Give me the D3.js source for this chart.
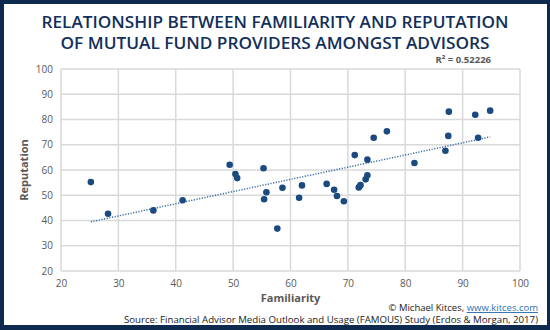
<!DOCTYPE html>
<html>
<head>
<meta charset="utf-8">
<script src="https://cdn.jsdelivr.net/npm/d3@7"></script>
<style>
  html, body { margin: 0; padding: 0; background: #fff; }
  svg { display: block; }
</style>
</head>
<body>
<div id="chart"></div>
<script>
// values
const familiarity = [25.2, 28.2, 36.1, 41.2, 49.4, 50.4, 50.7, 55.3, 55.8, 55.4, 57.7, 58.6,
  62.0, 61.5, 66.3, 67.6, 68.1, 69.3, 71.2, 71.9, 72.2, 73.1, 73.4, 73.4, 74.5, 76.8,
  81.6, 87.0, 87.5, 87.6, 92.2, 92.7, 94.8];
const reputation = [55.2, 42.7, 44.0, 48.0, 62.1, 58.4, 56.8, 60.7, 51.2, 48.4, 36.8, 53.0,
  53.9, 49.0, 54.5, 52.2, 49.7, 47.6, 65.9, 53.1, 54.0, 56.3, 57.9, 64.1, 72.8, 75.3,
  62.8, 67.6, 73.5, 83.1, 81.9, 72.8, 83.5];
const xTicks = [20, 30, 40, 50, 60, 70, 80, 90, 100];
const yTicks = [20, 30, 40, 50, 60, 70, 80, 90, 100];
const titleLines = ["RELATIONSHIP BETWEEN FAMILIARITY AND REPUTATION",
  "OF MUTUAL FUND PROVIDERS AMONGST ADVISORS"];
const r2Label = "R\u00b2 = 0.52226";

const width = 550, height = 330;
const margin = { top: 69, right: 30, bottom: 59, left: 61 };

const svg = d3.select('#chart').append('svg')
    .attr('width', width)
    .attr('height', height);

// dark frame (a bit heavier at the bottom)
svg.append('rect')
    .attr('width', width).attr('height', height)
    .attr('fill', '#0e2b4f');
svg.append('rect')
    .attr('x', 4).attr('y', 4)
    .attr('width', width - 7).attr('height', height - 9)
    .attr('fill', '#fff');

const x = d3.scaleLinear()
    .domain([20, 100])
    .range([margin.left, width - margin.right]);
const y = d3.scaleLinear()
    .domain([20, 100])
    .range([height - margin.bottom, margin.top]);

// title
svg.append('g')
    .selectAll('text')
    .data(titleLines)
    .join('text')
    .attr('x', width / 2)
    .attr('y', (d, i) => 28 + i * 21)
    .attr('text-anchor', 'middle')
    .attr('font-family', 'Open Sans, sans-serif')
    .attr('font-weight', 600)
    .attr('font-size', '17px')
    .attr('fill', '#12305a')
    .attr('textLength', (d, i) => i === 0 ? 467 : 429)
    .attr('lengthAdjust', 'spacingAndGlyphs')
    .text(d => d);

// grid
svg.append('g')
    .selectAll('line')
    .data(xTicks)
    .join('line')
    .attr('x1', d => x(d)).attr('x2', d => x(d))
    .attr('y1', y(20)).attr('y2', y(100))
    .attr('stroke', '#d9d9d9')
    .attr('stroke-width', 1.5);
svg.append('g')
    .selectAll('line')
    .data(yTicks)
    .join('line')
    .attr('x1', x(20)).attr('x2', x(100))
    .attr('y1', d => y(d)).attr('y2', d => y(d))
    .attr('stroke', '#d9d9d9')
    .attr('stroke-width', 1.5);

function xAxis(g) {
    g.attr('transform', `translate(0, ${y(20)})`)
        .call(d3.axisBottom(x).tickValues(xTicks).tickSize(0).tickPadding(9))
        .call(g => g.select('.domain').remove())
        .attr('font-family', 'Open Sans, sans-serif')
        .attr('font-size', '10px')
        .selectAll('text').attr('fill', '#595959');
}
function yAxis(g) {
    g.attr('transform', `translate(${x(20)},0)`)
        .call(d3.axisLeft(y).tickValues(yTicks).tickSize(0).tickPadding(8))
        .call(g => g.select('.domain').remove())
        .attr('font-family', 'Open Sans, sans-serif')
        .attr('font-size', '10px')
        .selectAll('text').attr('fill', '#595959');
}
svg.append('g').call(xAxis);
svg.append('g').call(yAxis);

svg.append('text')
    .attr('x', (x(20) + x(100)) / 2)
    .attr('y', 302)
    .attr('text-anchor', 'middle')
    .attr('font-family', 'Open Sans, sans-serif')
    .attr('font-weight', 700)
    .attr('font-size', '11px')
    .attr('fill', '#595959')
    .text('Familiarity');

svg.append('text')
    .attr('transform', `translate(28, ${(y(20) + y(100)) / 2}) rotate(-90)`)
    .attr('text-anchor', 'middle')
    .attr('font-family', 'Open Sans, sans-serif')
    .attr('font-weight', 700)
    .attr('font-size', '11px')
    .attr('fill', '#595959')
    .text('Reputation');

// linear trendline (least squares)
const n = familiarity.length;
const mx = d3.mean(familiarity), my = d3.mean(reputation);
let sxy = 0, sxx = 0;
for (let i = 0; i < n; i++) {
    sxy += (familiarity[i] - mx) * (reputation[i] - my);
    sxx += (familiarity[i] - mx) ** 2;
}
const slope = sxy / sxx, intercept = my - slope * mx;
const xExt = d3.extent(familiarity);

svg.append('line')
    .attr('x1', x(xExt[0])).attr('y1', y(intercept + slope * xExt[0]))
    .attr('x2', x(xExt[1])).attr('y2', y(intercept + slope * xExt[1]))
    .attr('stroke', '#3a6ea5')
    .attr('stroke-width', 1.5)
    .attr('stroke-dasharray', '1.2,1.5');

svg.append('g')
    .attr('fill', '#1a4a80')
    .selectAll('circle')
    .data(familiarity)
    .join('circle')
    .attr('cx', d => x(d))
    .attr('cy', (d, i) => y(reputation[i]))
    .attr('r', 3.3);

svg.append('text')
    .attr('x', 491)
    .attr('y', 63)
    .attr('text-anchor', 'end')
    .attr('font-family', 'Open Sans, sans-serif')
    .attr('font-weight', 700)
    .attr('font-size', '9.5px')
    .attr('fill', '#595959')
    .text(r2Label);

// credits
const credit = svg.append('text')
    .attr('x', 538)
    .attr('y', 311)
    .attr('text-anchor', 'end')
    .attr('font-family', 'Open Sans, sans-serif')
    .attr('font-size', '9.5px')
    .attr('fill', '#1a1a1a');
credit.append('tspan').text('\u00a9 Michael Kitces, ');
credit.append('tspan')
    .attr('fill', '#2f6fb5')
    .attr('text-decoration', 'underline')
    .text('www.kitces.com');

svg.append('text')
    .attr('x', 538)
    .attr('y', 323)
    .attr('text-anchor', 'end')
    .attr('font-family', 'Open Sans, sans-serif')
    .attr('font-size', '9.5px')
    .attr('fill', '#1a1a1a')
    .attr('textLength', 414)
    .attr('lengthAdjust', 'spacingAndGlyphs')
    .text('Source: Financial Advisor Media Outlook and Usage (FAMOUS) Study (Erdos & Morgan, 2017)');
</script>
</body>
</html>
